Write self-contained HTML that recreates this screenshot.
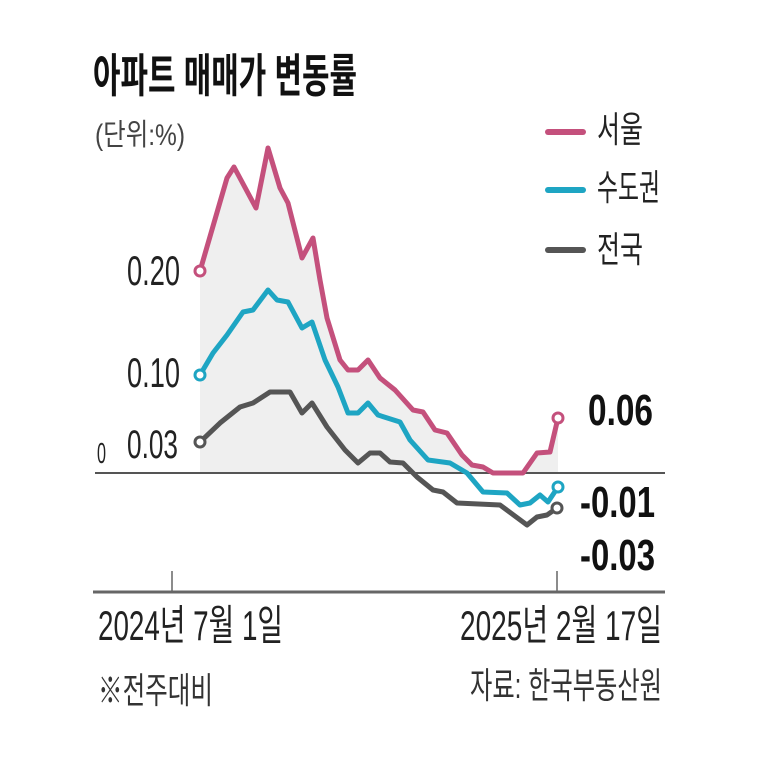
<!DOCTYPE html>
<html>
<head>
<meta charset="utf-8">
<style>
html,body{margin:0;padding:0;background:#fff;}
svg{display:block;}
text{font-family:"Liberation Sans","Noto Sans CJK KR",sans-serif;}
.k{font-family:"Liberation Sans","Noto Sans CJK KR",sans-serif;}
</style>
</head>
<body>
<svg width="768" height="768" viewBox="0 0 768 768" xmlns="http://www.w3.org/2000/svg">
<rect width="768" height="768" fill="#fff"/>

<!-- title -->
<text x="93" y="92" font-size="46" font-weight="700" fill="#111" textLength="264" lengthAdjust="spacingAndGlyphs">아파트 매매가 변동률</text>
<text x="95" y="145" font-size="30" fill="#444" textLength="90" lengthAdjust="spacingAndGlyphs">(단위:%)</text>

<!-- shaded area -->
<polygon fill="#efefef" points="200,271 227,178 234,167 256,208 268,148 280,188 288,203 302,258 313,238 320,280 327,318 340,360 348,370 358,370 368,360 380,378 395,390 413,410 423,412 435,430 447,433 462,455 472,465 483,467 493,473 523,473 537,453 550,452 558,418 558,473 200,473"/>

<!-- zero line -->
<line x1="95" y1="473" x2="665" y2="473" stroke="#555" stroke-width="2"/>
<!-- bottom axis -->
<line x1="93" y1="592" x2="665" y2="592" stroke="#666" stroke-width="3"/>
<line x1="172" y1="571" x2="172" y2="592" stroke="#666" stroke-width="1.5"/>
<line x1="557" y1="571" x2="557" y2="592" stroke="#666" stroke-width="1.5"/>

<!-- series -->
<polyline fill="none" stroke="#555" stroke-width="5" stroke-linejoin="round" stroke-linecap="round" points="200,442 220,423 240,407 253,403 270,392 290,392 302,413 312,403 327,427 345,450 358,463 370,453 380,453 390,462 403,463 417,477 433,490 443,492 457,503 500,505 527,525 537,517 547,515 557,508"/>
<polyline fill="none" stroke="#1ea5c3" stroke-width="5" stroke-linejoin="round" stroke-linecap="round" points="200,375 213,353 227,335 243,312 253,310 268,290 277,300 288,302 302,328 312,322 325,360 338,387 348,413 358,413 368,403 378,415 400,422 410,440 428,460 450,463 467,473 483,492 507,493 520,505 530,503 540,495 548,502 558,487"/>
<polyline fill="none" stroke="#c4507c" stroke-width="5" stroke-linejoin="round" stroke-linecap="round" points="200,271 227,178 234,167 256,208 268,148 280,188 288,203 302,258 313,238 320,280 327,318 340,360 348,370 358,370 368,360 380,378 395,390 413,410 423,412 435,430 447,433 462,455 472,465 483,467 493,473 523,473 537,453 550,452 558,418"/>

<!-- end markers -->
<circle cx="200" cy="271" r="5" fill="#fff" stroke="#c4507c" stroke-width="3"/>
<circle cx="200" cy="375" r="5" fill="#fff" stroke="#1ea5c3" stroke-width="3"/>
<circle cx="200" cy="442" r="5" fill="#fff" stroke="#555" stroke-width="3"/>
<circle cx="558" cy="418" r="5" fill="#fff" stroke="#c4507c" stroke-width="3"/>
<circle cx="558" cy="487" r="5" fill="#fff" stroke="#1ea5c3" stroke-width="3"/>
<circle cx="557" cy="508" r="5" fill="#fff" stroke="#555" stroke-width="3"/>

<!-- left value labels -->
<text x="127" y="285" font-size="42" fill="#222" textLength="53" lengthAdjust="spacingAndGlyphs">0.20</text>
<text x="127" y="387" font-size="42" fill="#222" textLength="53" lengthAdjust="spacingAndGlyphs">0.10</text>
<text x="127" y="458" font-size="40" fill="#222" textLength="51" lengthAdjust="spacingAndGlyphs">0.03</text>
<text x="97" y="463" font-size="29" fill="#222" textLength="9" lengthAdjust="spacingAndGlyphs">0</text>

<!-- right value labels -->
<text x="588" y="425" font-size="44" font-weight="700" fill="#111" textLength="65" lengthAdjust="spacingAndGlyphs">0.06</text>
<text x="580" y="517" font-size="44" font-weight="700" fill="#111" textLength="75" lengthAdjust="spacingAndGlyphs">-0.01</text>
<text x="580" y="570" font-size="44" font-weight="700" fill="#111" textLength="75" lengthAdjust="spacingAndGlyphs">-0.03</text>

<!-- legend -->
<line x1="548" y1="132" x2="583" y2="132" stroke="#c4507c" stroke-width="6" stroke-linecap="round"/>
<text x="597" y="142" font-size="36" fill="#222" textLength="46" lengthAdjust="spacingAndGlyphs">서울</text>
<line x1="548" y1="190" x2="583" y2="190" stroke="#1ea5c3" stroke-width="6" stroke-linecap="round"/>
<text x="597" y="200" font-size="36" fill="#222" textLength="63" lengthAdjust="spacingAndGlyphs">수도권</text>
<line x1="548" y1="250" x2="583" y2="250" stroke="#555" stroke-width="6" stroke-linecap="round"/>
<text x="597" y="262" font-size="36" fill="#222" textLength="46" lengthAdjust="spacingAndGlyphs">전국</text>

<!-- bottom labels -->
<text x="98" y="640" font-size="42" fill="#222" textLength="185" lengthAdjust="spacingAndGlyphs">2024년 7월 1일</text>
<text x="460" y="640" font-size="42" fill="#222" textLength="202" lengthAdjust="spacingAndGlyphs">2025년 2월 17일</text>
<text x="98" y="703" font-size="36" fill="#333" textLength="115" lengthAdjust="spacingAndGlyphs">※전주대비</text>
<text x="470" y="698" font-size="36" fill="#333" textLength="192" lengthAdjust="spacingAndGlyphs">자료: 한국부동산원</text>
</svg>
</body>
</html>
